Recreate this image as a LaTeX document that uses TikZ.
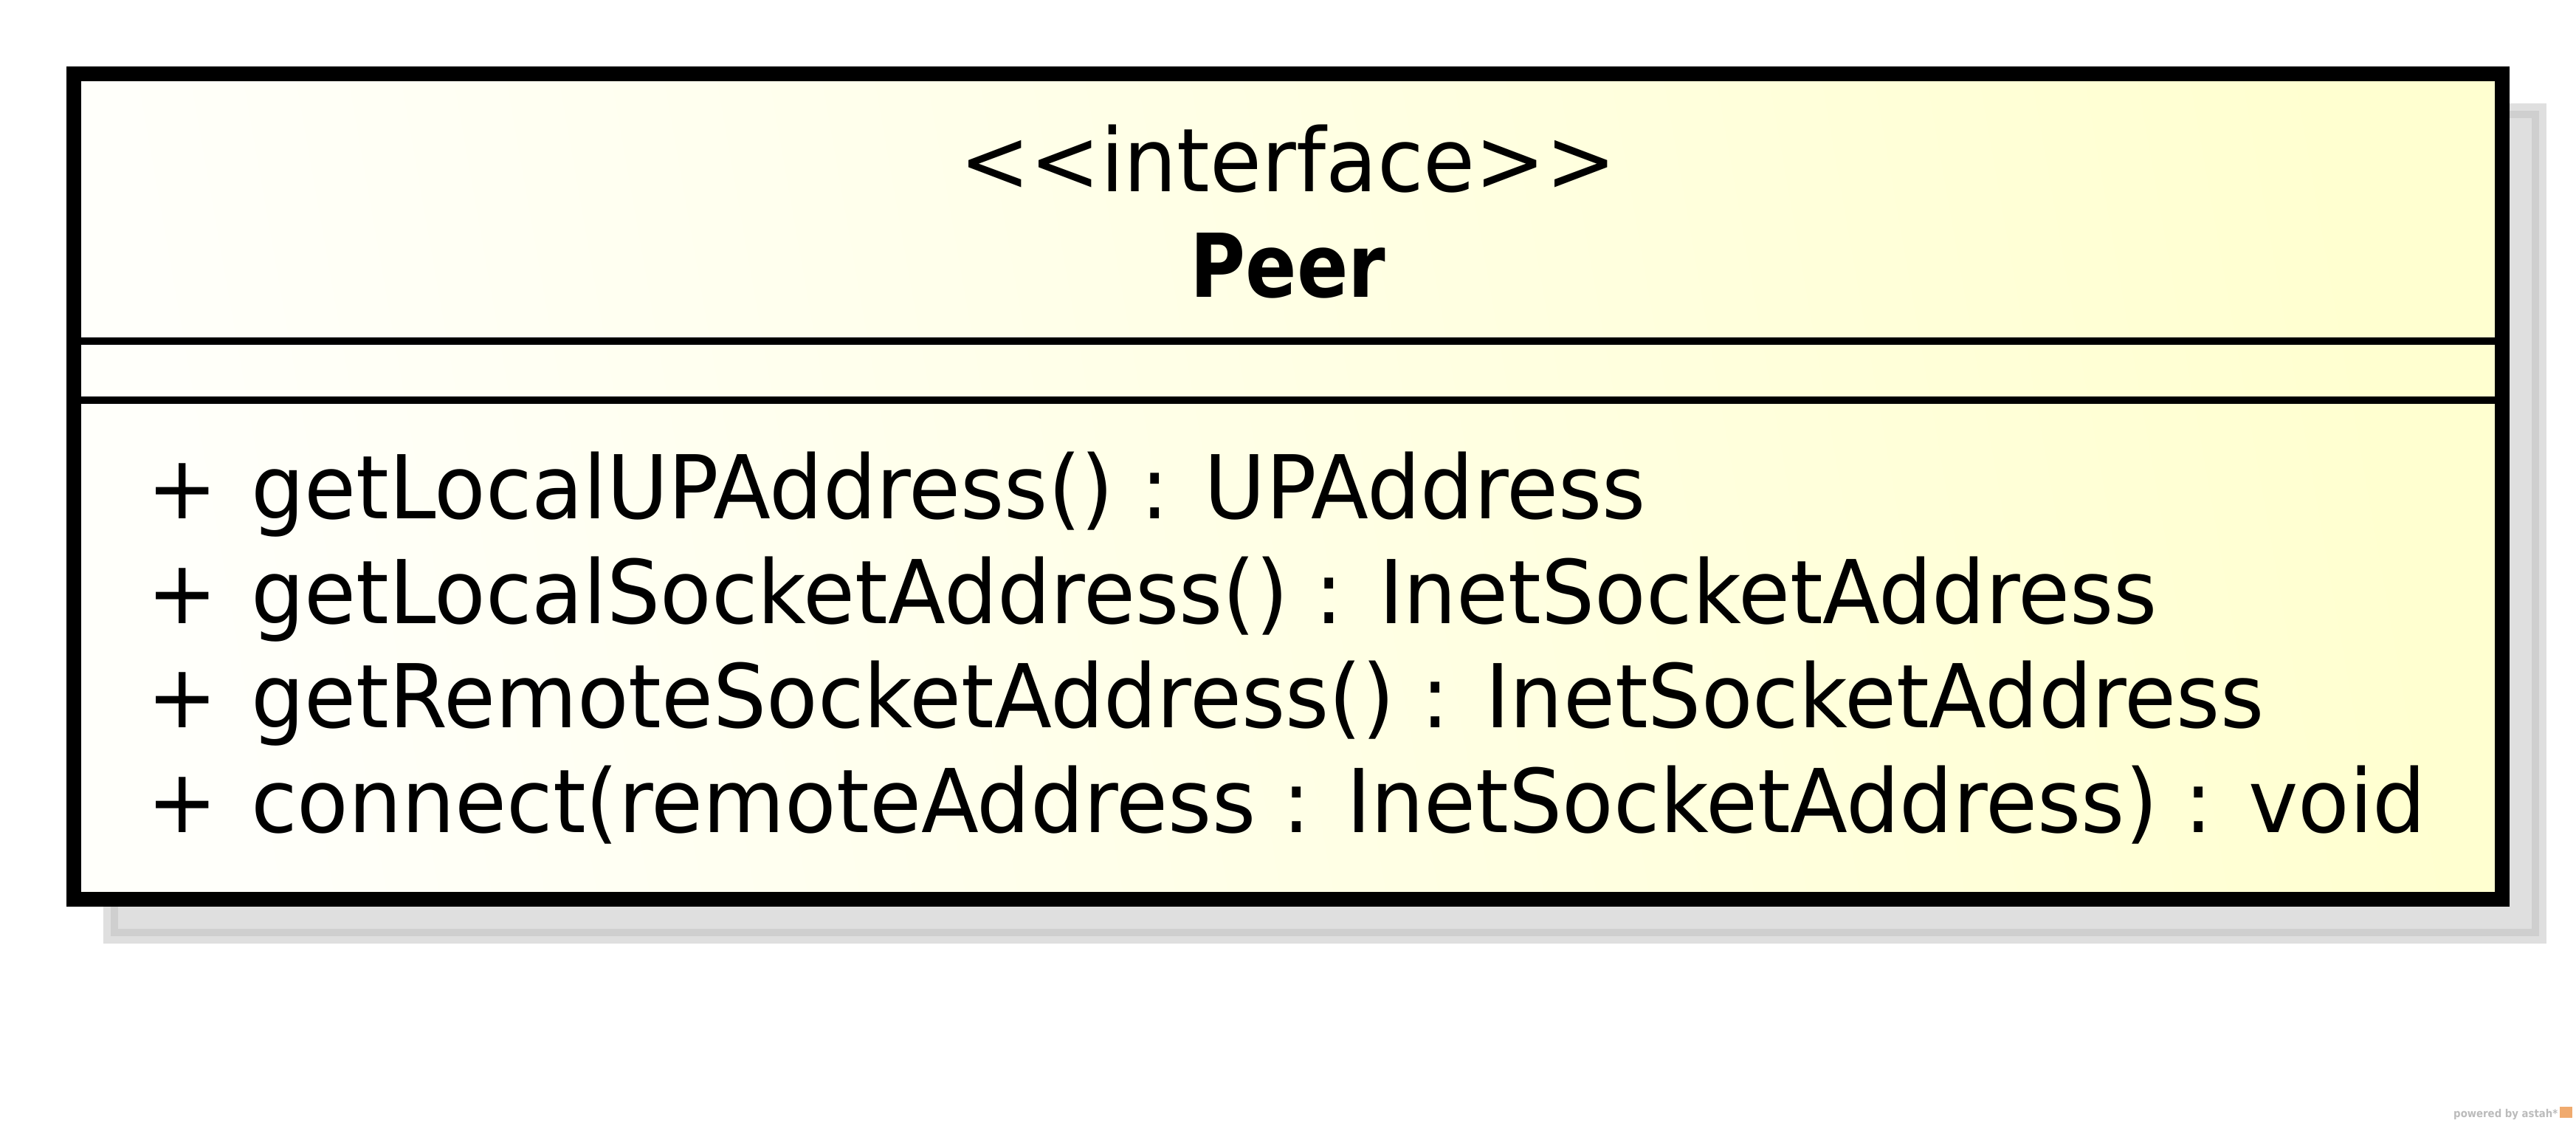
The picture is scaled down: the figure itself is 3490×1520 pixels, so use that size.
\documentclass[tikz,border=0pt]{standalone}
\usepackage{fontspec}
\setmainfont{DejaVu Sans}[FakeStretch=0.955, BoldFeatures={FakeStretch=0.86}]
\newfontfamily\wmfont{DejaVu Sans}[FakeStretch=0.9]
\definecolor{shlight}{RGB}{223,223,223}
\definecolor{shdark}{RGB}{207,207,207}
\definecolor{fillL}{RGB}{255,255,250}
\definecolor{fillR}{RGB}{255,255,208}
\definecolor{wmgray}{RGB}{187,187,187}
\definecolor{wmorange}{RGB}{240,170,110}
\tikzset{
  umltext/.style={inner sep=0pt, font=\fontsize{33.9}{40}\selectfont, text=black},
  thickframe/.style={line width=5.69pt, draw=black},
  sepline/.style={line width=2.85pt, draw=black},
}
\newcommand{\plusgap}{+\hspace{2.5pt} }
\begin{document}
\begin{tikzpicture}[x=0.01cm, y=-0.01cm]
\useasboundingbox (0,0) rectangle (3490,1520);
% shadow
\fill[shlight] (140,140) rectangle (3450,1278);
\draw[shdark, line width=2.85pt] (155,155) rectangle (3435,1263);
% box
\shade[left color=fillL, right color=fillR, shading angle=100] (100,100) rectangle (3390,1218);
\draw[thickframe] (100,100) rectangle (3390,1218);
\coordinate (s1l) at (110,462);
\coordinate (s1r) at (3380,462);
\coordinate (s2l) at (110,542);
\coordinate (s2r) at (3380,542);
\draw[sepline] (s1l) -- (s1r);
\draw[sepline] (s2l) -- (s2r);
% header
\node[umltext, anchor=base] (stereo) at (1745,259) {<{}<interface>{}>};
\node[umltext, anchor=base, font=\fontsize{33.9}{40}\selectfont\bfseries] (name) at (1745,402) {Peer};
% operations
\node[umltext, anchor=base west] (op1) at (199,702) {\plusgap getLocalUPAddress() : UPAddress};
\node[umltext, anchor=base west] (op2) at (199,844) {\plusgap getLocalSocketAddress() : InetSocketAddress};
\node[umltext, anchor=base west] (op3) at (199,985) {\plusgap getRemoteSocketAddress() : InetSocketAddress};
\node[umltext, anchor=base west] (op4) at (199,1127) {\plusgap connect(remoteAddress : InetSocketAddress) : void};
% watermark
\node[inner sep=0pt, anchor=base east, text=wmgray, font=\wmfont\fontsize{4.2}{5}\selectfont\bfseries] (wm) at (3466,1513) {powered by astah*};
\fill[wmorange] (3468,1499) rectangle (3485,1514);
\end{tikzpicture}
\end{document}
